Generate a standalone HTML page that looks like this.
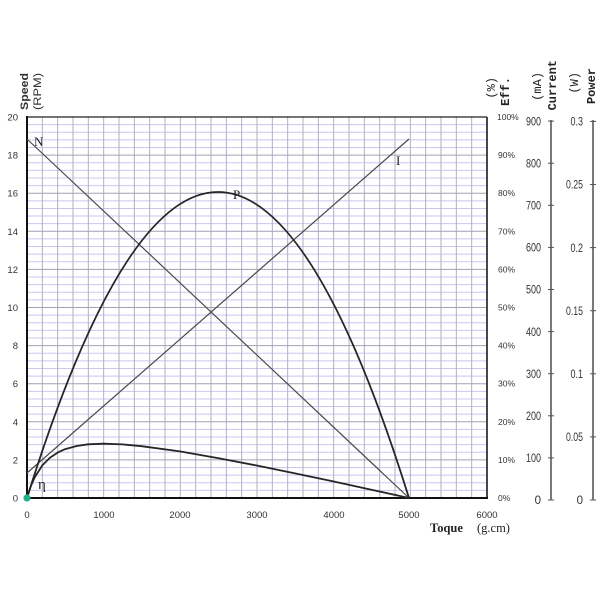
<!DOCTYPE html>
<html>
<head>
<meta charset="utf-8">
<style>
html,body{margin:0;padding:0;background:#fff;}
svg{display:block;}
.s{font-family:"Liberation Sans",sans-serif;fill:#333;}
.m{font-family:"Liberation Mono",monospace;fill:#222;}
.sf{font-family:"Liberation Serif",serif;fill:#222;}
</style>
</head>
<body>
<svg width="600" height="600" viewBox="0 0 600 600" xmlns="http://www.w3.org/2000/svg">
<rect width="600" height="600" fill="#fff"/>

<!-- minor horizontal grid -->
<g stroke="#c8c8f2" stroke-width="1">
<line x1="27" x2="487" y1="490.38" y2="490.38"/><line x1="27" x2="487" y1="482.76" y2="482.76"/><line x1="27" x2="487" y1="475.14" y2="475.14"/><line x1="27" x2="487" y1="467.52" y2="467.52"/>
<line x1="27" x2="487" y1="452.28" y2="452.28"/><line x1="27" x2="487" y1="444.66" y2="444.66"/><line x1="27" x2="487" y1="437.04" y2="437.04"/><line x1="27" x2="487" y1="429.42" y2="429.42"/>
<line x1="27" x2="487" y1="414.18" y2="414.18"/><line x1="27" x2="487" y1="406.56" y2="406.56"/><line x1="27" x2="487" y1="398.94" y2="398.94"/><line x1="27" x2="487" y1="391.32" y2="391.32"/>
<line x1="27" x2="487" y1="376.08" y2="376.08"/><line x1="27" x2="487" y1="368.46" y2="368.46"/><line x1="27" x2="487" y1="360.84" y2="360.84"/><line x1="27" x2="487" y1="353.22" y2="353.22"/>
<line x1="27" x2="487" y1="337.98" y2="337.98"/><line x1="27" x2="487" y1="330.36" y2="330.36"/><line x1="27" x2="487" y1="322.74" y2="322.74"/><line x1="27" x2="487" y1="315.12" y2="315.12"/>
<line x1="27" x2="487" y1="299.88" y2="299.88"/><line x1="27" x2="487" y1="292.26" y2="292.26"/><line x1="27" x2="487" y1="284.64" y2="284.64"/><line x1="27" x2="487" y1="277.02" y2="277.02"/>
<line x1="27" x2="487" y1="261.78" y2="261.78"/><line x1="27" x2="487" y1="254.16" y2="254.16"/><line x1="27" x2="487" y1="246.54" y2="246.54"/><line x1="27" x2="487" y1="238.92" y2="238.92"/>
<line x1="27" x2="487" y1="223.68" y2="223.68"/><line x1="27" x2="487" y1="216.06" y2="216.06"/><line x1="27" x2="487" y1="208.44" y2="208.44"/><line x1="27" x2="487" y1="200.82" y2="200.82"/>
<line x1="27" x2="487" y1="185.58" y2="185.58"/><line x1="27" x2="487" y1="177.96" y2="177.96"/><line x1="27" x2="487" y1="170.34" y2="170.34"/><line x1="27" x2="487" y1="162.72" y2="162.72"/>
<line x1="27" x2="487" y1="147.48" y2="147.48"/><line x1="27" x2="487" y1="139.86" y2="139.86"/><line x1="27" x2="487" y1="132.24" y2="132.24"/><line x1="27" x2="487" y1="124.62" y2="124.62"/>
</g>
<!-- vertical grid -->
<g stroke="#b3adc9" stroke-width="1">
<line y1="117" y2="498" x1="42.33" x2="42.33"/><line y1="117" y2="498" x1="57.67" x2="57.67"/><line y1="117" y2="498" x1="73" x2="73"/><line y1="117" y2="498" x1="88.33" x2="88.33"/><line y1="117" y2="498" x1="103.67" x2="103.67"/>
<line y1="117" y2="498" x1="119" x2="119"/><line y1="117" y2="498" x1="134.33" x2="134.33"/><line y1="117" y2="498" x1="149.67" x2="149.67"/><line y1="117" y2="498" x1="165" x2="165"/><line y1="117" y2="498" x1="180.33" x2="180.33"/>
<line y1="117" y2="498" x1="195.67" x2="195.67"/><line y1="117" y2="498" x1="211" x2="211"/><line y1="117" y2="498" x1="226.33" x2="226.33"/><line y1="117" y2="498" x1="241.67" x2="241.67"/><line y1="117" y2="498" x1="257" x2="257"/>
<line y1="117" y2="498" x1="272.33" x2="272.33"/><line y1="117" y2="498" x1="287.67" x2="287.67"/><line y1="117" y2="498" x1="303" x2="303"/><line y1="117" y2="498" x1="318.33" x2="318.33"/><line y1="117" y2="498" x1="333.67" x2="333.67"/>
<line y1="117" y2="498" x1="349" x2="349"/><line y1="117" y2="498" x1="364.33" x2="364.33"/><line y1="117" y2="498" x1="379.67" x2="379.67"/><line y1="117" y2="498" x1="395" x2="395"/><line y1="117" y2="498" x1="410.33" x2="410.33"/>
<line y1="117" y2="498" x1="425.67" x2="425.67"/><line y1="117" y2="498" x1="441" x2="441"/><line y1="117" y2="498" x1="456.33" x2="456.33"/><line y1="117" y2="498" x1="471.67" x2="471.67"/>
</g>
<!-- major horizontal grid -->
<g stroke="#a3a1b6" stroke-width="1">
<line x1="27" x2="487" y1="459.9" y2="459.9"/><line x1="27" x2="487" y1="421.8" y2="421.8"/><line x1="27" x2="487" y1="383.7" y2="383.7"/><line x1="27" x2="487" y1="345.6" y2="345.6"/><line x1="27" x2="487" y1="307.5" y2="307.5"/>
<line x1="27" x2="487" y1="269.4" y2="269.4"/><line x1="27" x2="487" y1="231.3" y2="231.3"/><line x1="27" x2="487" y1="193.2" y2="193.2"/><line x1="27" x2="487" y1="155.1" y2="155.1"/>
</g>

<!-- border -->
<line x1="27" y1="117" x2="487" y2="117" stroke="#222" stroke-width="1.3"/>
<line x1="487" y1="117" x2="487" y2="498" stroke="#333" stroke-width="1.8"/>
<line x1="27" y1="116" x2="27" y2="499" stroke="#111" stroke-width="2"/>
<line x1="26" y1="498" x2="488" y2="498" stroke="#111" stroke-width="2"/>

<!-- curves -->
<line x1="27" y1="139" x2="409" y2="498" stroke="#4a4a4a" stroke-width="1.2"/>
<line x1="27" y1="473" x2="409" y2="139" stroke="#4a4a4a" stroke-width="1.2"/>
<path d="M27,498 Q218,-114 409,498" fill="none" stroke="#262626" stroke-width="1.8"/>
<polyline fill="none" stroke="#262626" stroke-width="1.8" stroke-linejoin="round"
 points="27,498 30.8,486.3 34.6,477.5 42.3,465.4 49.9,457.7 57.6,452.6 65.2,449.1 76.7,446 88.1,444.3 103.4,443.7 122.5,444.4 141.6,446.2 179.8,451.4 218,458.1 256.2,465.4 294.4,473.2 332.6,481.3 370.8,489.6 409,498"/>

<circle cx="27" cy="498" r="3.6" fill="#1db386"/>

<!-- curve labels -->
<text class="sf" x="34" y="146" font-size="13">N</text>
<text class="sf" x="396" y="165" font-size="13">I</text>
<text class="sf" x="233" y="199" font-size="13">P</text>
<text class="sf" x="38" y="489" font-size="15">η</text>

<!-- left axis labels -->
<g class="s" font-size="9.5" text-anchor="end">
<text x="18" y="501.5">0</text><text x="18" y="463.4">2</text><text x="18" y="425.3">4</text><text x="18" y="387.2">6</text><text x="18" y="349.1">8</text>
<text x="18" y="311">10</text><text x="18" y="272.9">12</text><text x="18" y="234.8">14</text><text x="18" y="196.7">16</text><text x="18" y="158.6">18</text><text x="18" y="120.5">20</text>
</g>
<!-- x axis labels -->
<g class="s" font-size="9.5" text-anchor="middle">
<text x="27" y="518">0</text><text x="104" y="518">1000</text><text x="180" y="518">2000</text><text x="257" y="518">3000</text><text x="334" y="518">4000</text><text x="409" y="518">5000</text><text x="487" y="518">6000</text>
</g>
<text class="sf" x="430" y="532" font-size="12.5" font-weight="bold">Toque</text>
<text class="sf" x="477" y="532" font-size="12.5">(g.cm)</text>

<!-- left title -->
<text class="s" font-size="11" font-weight="bold" transform="translate(28,110) rotate(-90)" textLength="37" lengthAdjust="spacingAndGlyphs">Speed</text>
<text class="s" font-size="11" transform="translate(41,110) rotate(-90)" textLength="37" lengthAdjust="spacingAndGlyphs">(RPM)</text>

<!-- Eff labels -->
<g class="s" font-size="8.5">
<text x="498" y="501">0%</text><text x="498" y="462.9">10%</text><text x="498" y="424.8">20%</text><text x="498" y="386.7">30%</text><text x="498" y="348.6">40%</text>
<text x="498" y="310.5">50%</text><text x="498" y="272.4">60%</text><text x="498" y="234.3">70%</text><text x="498" y="196.2">80%</text><text x="498" y="158.1">90%</text><text x="497" y="120">100%</text>
</g>

<!-- current axis -->
<line x1="551" y1="120" x2="551" y2="500" stroke="#333" stroke-width="1.3"/>
<g stroke="#555" stroke-width="1">
<line x1="548" x2="554" y1="500" y2="500"/><line x1="548" x2="554" y1="457.9" y2="457.9"/><line x1="548" x2="554" y1="415.8" y2="415.8"/><line x1="548" x2="554" y1="373.7" y2="373.7"/><line x1="548" x2="554" y1="331.6" y2="331.6"/>
<line x1="548" x2="554" y1="289.5" y2="289.5"/><line x1="548" x2="554" y1="247.4" y2="247.4"/><line x1="548" x2="554" y1="205.3" y2="205.3"/><line x1="548" x2="554" y1="163.2" y2="163.2"/><line x1="548" x2="554" y1="121.1" y2="121.1"/>
</g>
<g class="s" font-size="11.5" text-anchor="end">
<text x="541" y="504">0</text>
<text x="541" y="462" textLength="15" lengthAdjust="spacingAndGlyphs">100</text>
<text x="541" y="420" textLength="15" lengthAdjust="spacingAndGlyphs">200</text>
<text x="541" y="378" textLength="15" lengthAdjust="spacingAndGlyphs">300</text>
<text x="541" y="336" textLength="15" lengthAdjust="spacingAndGlyphs">400</text>
<text x="541" y="293.5" textLength="15" lengthAdjust="spacingAndGlyphs">500</text>
<text x="541" y="251.5" textLength="15" lengthAdjust="spacingAndGlyphs">600</text>
<text x="541" y="209.5" textLength="15" lengthAdjust="spacingAndGlyphs">700</text>
<text x="541" y="167.5" textLength="15" lengthAdjust="spacingAndGlyphs">800</text>
<text x="541" y="125.5" textLength="15" lengthAdjust="spacingAndGlyphs">900</text>
</g>

<!-- power axis -->
<line x1="593" y1="120" x2="593" y2="500" stroke="#333" stroke-width="1.3"/>
<g stroke="#555" stroke-width="1">
<line x1="590" x2="596" y1="500" y2="500"/><line x1="590" x2="596" y1="436.9" y2="436.9"/><line x1="590" x2="596" y1="373.8" y2="373.8"/><line x1="590" x2="596" y1="310.7" y2="310.7"/>
<line x1="590" x2="596" y1="247.6" y2="247.6"/><line x1="590" x2="596" y1="184.5" y2="184.5"/><line x1="590" x2="596" y1="121.4" y2="121.4"/>
</g>
<g class="s" font-size="11.5" text-anchor="end">
<text x="583" y="504">0</text>
<text x="583" y="441" textLength="17" lengthAdjust="spacingAndGlyphs">0.05</text>
<text x="583" y="378" textLength="12.5" lengthAdjust="spacingAndGlyphs">0.1</text>
<text x="583" y="315" textLength="17" lengthAdjust="spacingAndGlyphs">0.15</text>
<text x="583" y="252" textLength="12.5" lengthAdjust="spacingAndGlyphs">0.2</text>
<text x="583" y="188.5" textLength="17" lengthAdjust="spacingAndGlyphs">0.25</text>
<text x="583" y="125.5" textLength="12.5" lengthAdjust="spacingAndGlyphs">0.3</text>
</g>

<!-- right titles -->
<g class="m" font-size="12" text-anchor="end">
<text transform="translate(495,77) rotate(-90)">(%)</text>
<text transform="translate(509,77) rotate(-90)" font-weight="bold">Eff.</text>
<text transform="translate(541,72) rotate(-90)">(mA)</text>
<text transform="translate(556,60) rotate(-90)" font-weight="bold">Current</text>
<text transform="translate(578,72) rotate(-90)">(W)</text>
<text transform="translate(595,68) rotate(-90)" font-weight="bold">Power</text>
</g>
</svg>
</body>
</html>
